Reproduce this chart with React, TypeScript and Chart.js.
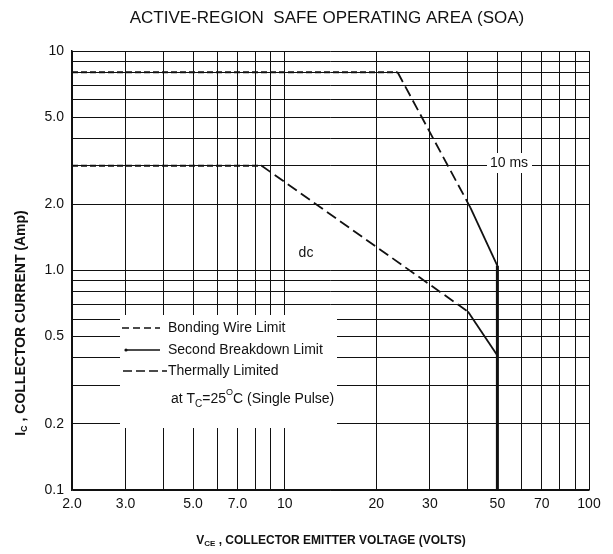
import { useEffect, useRef } from 'react';
import { Chart, registerables } from 'chart.js';

Chart.register(...registerables);

// ---- Data (V in volts, I in amps) ----
const xGridValues = [2, 3, 4, 5, 6, 7, 8, 9, 10, 20, 30, 40, 50, 60, 70, 80, 90, 100];
const xGridLabels = ['2.0', '3.0', '', '5.0', '', '7.0', '', '', '10', '20', '30', '', '50', '', '70', '', '', '100'];
const yGridValues = [0.1, 0.2, 0.3, 0.4, 0.5, 0.6, 0.7, 0.8, 0.9, 1, 2, 3, 4, 5, 6, 7, 8, 9, 10];
const yGridLabels = ['0.1', '0.2', '', '', '0.5', '', '', '', '', '1.0', '2.0', '', '', '5.0', '', '', '', '', '10'];

// 10 ms pulse curve
const pulseBondV = [2, 23.5];
const pulseBondI = [8, 8];
const pulseThermV = [23.5, 40.8];
const pulseThermI = [8, 1.93];
const pulseSbV = [40.8, 50];
const pulseSbI = [1.93, 1.05];
// dc curve
const dcBondV = [2, 8.4];
const dcBondI = [3, 3];
const dcThermV = [8.4, 40];
const dcThermI = [3, 0.65];
const dcSbV = [40, 50];
const dcSbI = [0.65, 0.41];
// voltage limit
const vLimitV = [50, 50];
const vLimitI = [1.05, 0.1];

const FONT = "'Liberation Sans', Arial, sans-serif";
const INK = '#111';

const pts = (xs: number[], ys: number[]) => xs.map((x, i) => ({ x, y: ys[i] }));

type Part = { text: string; font: string; dy?: number };

function drawRich(ctx: CanvasRenderingContext2D, parts: Part[], x: number, y: number) {
  let total = 0;
  parts.forEach((p) => {
    ctx.font = p.font;
    total += ctx.measureText(p.text).width;
  });
  let cx = x - total / 2;
  ctx.textAlign = 'left';
  ctx.textBaseline = 'middle';
  parts.forEach((p) => {
    ctx.font = p.font;
    ctx.fillText(p.text, cx, y + (p.dy || 0));
    cx += ctx.measureText(p.text).width;
  });
}

function drawRichLeft(ctx: CanvasRenderingContext2D, parts: Part[], x: number, y: number) {
  let cx = x;
  ctx.textAlign = 'left';
  ctx.textBaseline = 'middle';
  parts.forEach((p) => {
    ctx.font = p.font;
    ctx.fillText(p.text, cx, y + (p.dy || 0));
    cx += ctx.measureText(p.text).width;
  });
}

const decorPlugin = {
  id: 'decor',
  beforeDatasetsDraw(chart: any) {
    const ctx = chart.ctx as CanvasRenderingContext2D;
    ctx.save();
    ctx.fillStyle = '#fff';
    // legend backdrop
    ctx.fillRect(120, 315, 217, 113);
    // "10 ms" backdrop
    ctx.fillRect(487, 153, 45, 20);
    ctx.restore();
  },
  afterDatasetsDraw(chart: any) {
    const ctx = chart.ctx as CanvasRenderingContext2D;
    ctx.save();
    ctx.fillStyle = INK;
    ctx.strokeStyle = INK;
    // legend samples
    ctx.lineWidth = 1.6;
    ctx.setLineDash([7, 4]);
    ctx.beginPath(); ctx.moveTo(122, 328); ctx.lineTo(160, 328); ctx.stroke();
    ctx.setLineDash([]);
    ctx.beginPath(); ctx.moveTo(125, 350); ctx.lineTo(160, 350); ctx.stroke();
    ctx.beginPath(); ctx.arc(126, 350, 1.6, 0, Math.PI * 2); ctx.fill();
    ctx.setLineDash([9, 4]);
    ctx.beginPath(); ctx.moveTo(123, 371); ctx.lineTo(167, 371); ctx.stroke();
    ctx.setLineDash([]);
    const f = `14px ${FONT}`;
    drawRichLeft(ctx, [{ text: 'Bonding Wire Limit', font: f }], 168, 328);
    drawRichLeft(ctx, [{ text: 'Second Breakdown Limit', font: f }], 168, 350);
    drawRichLeft(ctx, [{ text: 'Thermally Limited', font: f }], 168, 371);
    drawRichLeft(
      ctx,
      [
        { text: 'at T', font: f },
        { text: 'C', font: `10px ${FONT}`, dy: 5 },
        { text: '=25', font: f },
        { text: 'O', font: `9px ${FONT}`, dy: -6 },
        { text: 'C (Single Pulse)', font: f },
      ],
      171,
      399
    );
    // annotations
    drawRich(ctx, [{ text: 'dc', font: f }], 306, 253);
    drawRich(ctx, [{ text: '10 ms', font: f }], 509, 163);
    ctx.restore();
  },
  afterDraw(chart: any) {
    const ctx = chart.ctx as CanvasRenderingContext2D;
    ctx.save();
    ctx.fillStyle = INK;
    drawRich(ctx, [{ text: 'ACTIVE-REGION  SAFE OPERATING AREA (SOA)', font: `17px ${FONT}` }], 327, 18);
    drawRich(
      ctx,
      [
        { text: 'V', font: `bold 12px ${FONT}` },
        { text: 'CE', font: `bold 8px ${FONT}`, dy: 3 },
        { text: ' , COLLECTOR EMITTER VOLTAGE (VOLTS)', font: `bold 12px ${FONT}` },
      ],
      331,
      541
    );
    ctx.translate(21, 323);
    ctx.rotate(-Math.PI / 2);
    drawRich(
      ctx,
      [
        { text: 'I', font: `bold 14px ${FONT}` },
        { text: 'C', font: `bold 9px ${FONT}`, dy: 4 },
        { text: ' , COLLECTOR CURRENT (Amp)', font: `bold 14px ${FONT}` },
      ],
      0,
      0
    );
    ctx.restore();
  },
};

export default function App() {
  const ref = useRef<HTMLCanvasElement>(null);
  useEffect(() => {
    const line = (data: any, dash: number[], width: number) => ({
      data,
      borderColor: INK,
      borderWidth: width,
      borderDash: dash,
      pointRadius: 0,
      fill: false,
      tension: 0,
      borderCapStyle: 'butt',
    });
    const chart = new Chart(ref.current!, {
      type: 'line',
      data: {
        datasets: [
          line(pts(pulseBondV, pulseBondI), [6, 3], 2),
          line(pts(pulseThermV, pulseThermI), [11, 5], 1.8),
          line(pts(pulseSbV, pulseSbI), [], 1.8),
          line(pts(dcBondV, dcBondI), [6, 3], 2),
          line(pts(dcThermV, dcThermI), [11, 5], 1.8),
          line(pts(dcSbV, dcSbI), [], 1.8),
          line(pts(vLimitV, vLimitI), [], 3),
        ] as any,
      },
      options: {
        responsive: false,
        animation: false,
        devicePixelRatio: 1,
        layout: { padding: { left: 0, top: 51, right: 24, bottom: 0 } },
        plugins: { legend: { display: false }, tooltip: { enabled: false }, title: { display: false } },
        scales: {
          x: {
            type: 'logarithmic',
            min: 2,
            max: 100,
            afterBuildTicks: (s: any) => {
              s.ticks = xGridValues.map((v) => ({ value: v }));
            },
            afterFit: (s: any) => {
              s.height = 64;
            },
            ticks: {
              autoSkip: false,
              maxRotation: 0,
              padding: 6,
              color: INK,
              font: { family: FONT, size: 14 },
              callback: (_v: any, i: number) => xGridLabels[i],
            },
            grid: { color: INK, lineWidth: 1, drawTicks: false },
            border: { color: INK, width: 1.5 },
          },
          y: {
            type: 'logarithmic',
            min: 0.1,
            max: 10,
            afterBuildTicks: (s: any) => {
              s.ticks = yGridValues.map((v) => ({ value: v }));
            },
            afterFit: (s: any) => {
              s.width = 72;
            },
            ticks: {
              autoSkip: false,
              padding: 8,
              color: INK,
              font: { family: FONT, size: 14 },
              callback: (_v: any, i: number) => yGridLabels[i],
            },
            grid: { color: INK, lineWidth: 1, drawTicks: false },
            border: { color: INK, width: 1.5 },
          },
        },
      } as any,
      plugins: [decorPlugin],
    });
    return () => chart.destroy();
  }, []);
  return (
    <div style={{ position: 'fixed', left: 0, top: 0, width: 613, height: 554, background: '#fff' }}>
      <canvas ref={ref} width={613} height={554} style={{ display: 'block', width: 613, height: 554 }} />
    </div>
  );
}
